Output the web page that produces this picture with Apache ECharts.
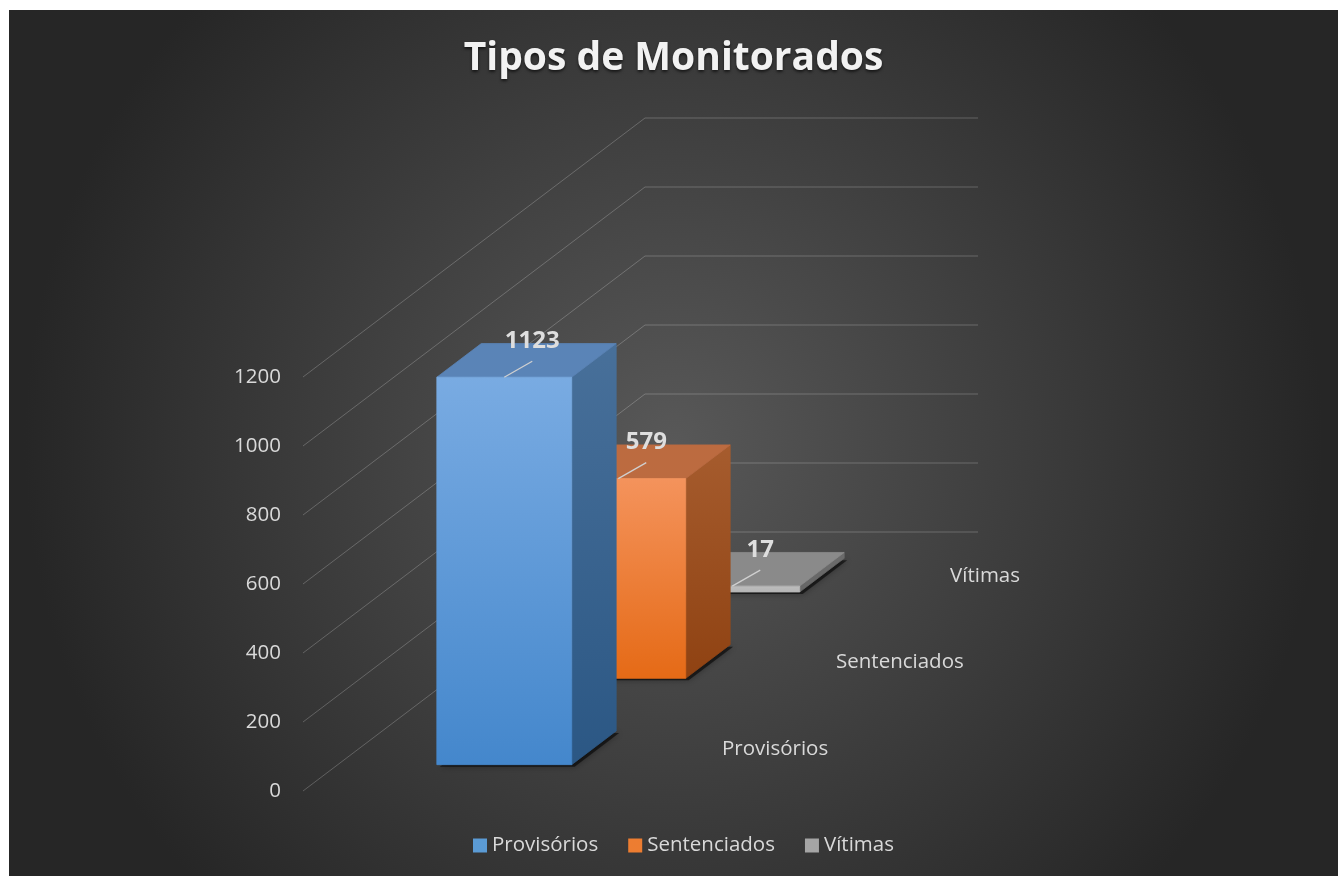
<!DOCTYPE html>
<html><head><meta charset="utf-8">
<script src="https://cdn.jsdelivr.net/npm/echarts@6/dist/echarts.min.js"></script>
<style>html,body{margin:0;padding:0;background:#fff;}#c{position:absolute;left:9px;top:10px;width:1329px;height:866px;}</style>
</head><body><div id="c"></div>
<script>
// ---- data ----
const titleText = 'Tipos de Monitorados';
const categories = ['Provisórios', 'Sentenciados', 'Vítimas'];
const values = [1123, 579, 17];
const yTicks = [0, 200, 400, 600, 800, 1000, 1200];

// ---- styling / layout ----
const FONT = 'Open Sans';
const DX = 342, DY = -259;      // depth vector of the 3D floor (px)
const SLOT_DEPTH = 0.39;        // bar depth share of its depth slot
const BAR_WIDTH = 0.405;        // bar width share of floor width
const STY = [
  {legend: '#5b9bd5', front: ['#79abe2', '#4487cc'], side: ['#48709a', '#2b5784'], top: '#5a84b7'},
  {legend: '#ed7d31', front: ['#f4935c', '#e56a16'], side: ['#a65c2e', '#8f4212'], top: '#bc6b40'},
  {legend: '#a5a5a5', front: ['#bdbdbd', '#b5b5b5'], side: ['#6c6c6c', '#666666'], top: '#8a8a8a'}
];
const n = categories.length;
const P = (pt, t) => [pt[0] + DX * t, pt[1] + DY * t];
const grad = (c) => new echarts.graphic.LinearGradient(0, 0, 0, 1, [{offset: 0, color: c[0]}, {offset: 1, color: c[1]}]);
const face = (pts, fill) => ({type: 'polygon', shape: {points: pts},
  style: {fill: fill, stroke: fill, lineWidth: 0.8, lineJoin: 'miter'}});

const chart = echarts.init(document.getElementById('c'), null, {renderer: 'canvas'});

const gridSeries = {
  type: 'custom', name: '_grid', silent: true, z: 1,
  data: yTicks.map(v => [0, v]),
  encode: {x: 0, y: 1},
  renderItem: (params, api) => {
    const v = api.value(1);
    const p0 = api.coord([0, v]);
    const p1 = P(p0, 1);
    const p2 = P(api.coord([1, v]), 1);
    return {type: 'polyline', shape: {points: [p0, p1, p2]},
      style: {stroke: 'rgba(255,255,255,0.22)', lineWidth: 1, fill: null}};
  }
};

const depthLabelSeries = {
  type: 'custom', name: '_depth', silent: true, z: 2,
  data: categories.map((c, k) => [1, 0, k]),
  encode: {x: 0, y: 1},
  renderItem: (params, api) => {
    const k = api.value(2);
    const pt = P(api.coord([1, 0]), (k + 0.5) / n);
    return {type: 'text', x: pt[0] + 29, y: pt[1] + 1,
      style: {text: categories[k], fill: '#d9d9d9', font: '20.5px "' + FONT + '"', textAlign: 'left', textVerticalAlign: 'middle'}};
  }
};

const barSeries = categories.map((name, k) => ({
  type: 'custom', name: name, z: 10 - k,
  itemStyle: {color: STY[k].legend},
  data: [[0.5, values[k]]],
  encode: {x: 0, y: 1},
  renderItem: (params, api) => {
    const v = api.value(1);
    const s = STY[k];
    const tf = (k + 0.5) / n - SLOT_DEPTH / (2 * n);
    const tb = tf + SLOT_DEPTH / n;
    const x0 = 0.5 - BAR_WIDTH / 2, x1 = 0.5 + BAR_WIDTH / 2;
    const a = api.coord([x0, 0]), b = api.coord([x1, 0]), c = api.coord([x1, v]), d = api.coord([x0, v]);
    const front = [P(a, tf), P(b, tf), P(c, tf), P(d, tf)];
    const side = [P(b, tf), P(b, tb), P(c, tb), P(c, tf)];
    const top = [P(d, tf), P(c, tf), P(c, tb), P(d, tb)];
    const foot = [P(a, tf), P(b, tf), P(b, tb), P(a, tb)].map(p => [p[0] + 3, p[1] + 2]);
    const m = P(api.coord([0.5, v]), tf);
    const e = [m[0] + 28, m[1] - 16];
    return {type: 'group', children: [
      {type: 'polygon', shape: {points: foot}, style: {fill: 'rgba(0,0,0,0.55)', shadowBlur: 6, shadowColor: 'rgba(0,0,0,0.6)'}},
      face(side, grad(s.side)),
      face(top, s.top),
      face(front, grad(s.front)),
      {type: 'line', shape: {x1: m[0], y1: m[1], x2: e[0], y2: e[1]}, style: {stroke: '#d0d0d0', lineWidth: 1.3}},
      {type: 'text', x: e[0], y: e[1] - 20, style: {text: String(values[k]), fill: '#dedede',
        font: 'bold 24px "' + FONT + '"', textAlign: 'center', textVerticalAlign: 'middle'}}
    ]};
  }
}));

chart.setOption({
  animation: false,
  backgroundColor: {type: 'radial', x: 0.5, y: 0.5, r: 0.75,
    colorStops: [{offset: 0, color: '#585858'}, {offset: 1, color: '#262626'}]},
  title: {text: titleText, left: 'center', top: 24,
    textStyle: {color: '#f2f2f2', fontSize: 39, fontWeight: 'bold', fontFamily: FONT,
      textShadowColor: 'rgba(0,0,0,0.6)', textShadowBlur: 3, textShadowOffsetY: 2}},
  legend: {data: categories, bottom: 15, left: 459, icon: 'rect', itemWidth: 14, itemHeight: 14, itemGap: 30,
    textStyle: {color: '#d9d9d9', fontSize: 20.5, fontFamily: FONT}},
  grid: {left: 294, top: 367, width: 333, height: 414},
  xAxis: {type: 'value', min: 0, max: 1, show: false},
  yAxis: {type: 'value', min: yTicks[0], max: yTicks[yTicks.length - 1], interval: 200,
    axisLine: {show: false}, axisTick: {show: false}, splitLine: {show: false},
    axisLabel: {color: '#d9d9d9', fontSize: 20.5, fontFamily: FONT, margin: 22,
      formatter: v => String(v)}},
  series: [gridSeries, depthLabelSeries].concat(barSeries)
});
</script></body></html>
